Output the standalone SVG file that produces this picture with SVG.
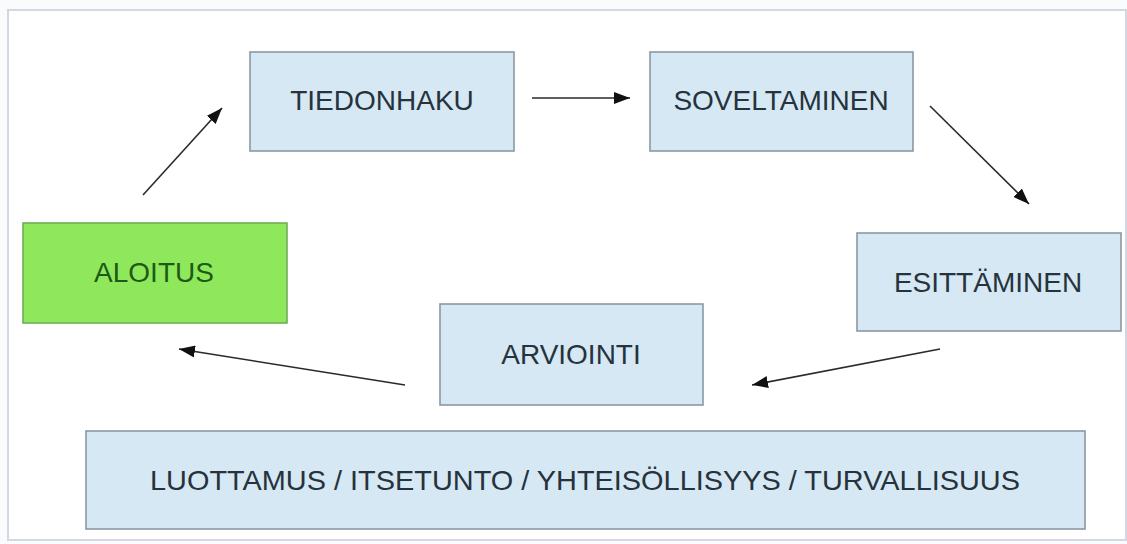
<svg xmlns="http://www.w3.org/2000/svg" width="1127" height="544" viewBox="0 0 1127 544">
<defs>
<style>
.box{fill:#d5e8f4;stroke:#8a98a3;stroke-width:1.6}
.start{fill:#8fe85c;stroke:#6fae55;stroke-width:1.6}
.lbl{font-family:"Liberation Sans",Arial,sans-serif;font-size:28px;fill:#26323c;text-anchor:middle}
.edge{stroke:#2a2a2a;stroke-width:1.6;fill:none;marker-end:url(#ah)}
</style>
<marker id="ah" viewBox="0 0 16 12" refX="16" refY="6" markerWidth="16" markerHeight="12" markerUnits="userSpaceOnUse" orient="auto">
<path d="M0,0 L16,6 L0,12 z" fill="#111"/>
</marker>
</defs>
<rect x="0" y="0" width="1127" height="544" fill="#fafbfc"/>
<rect x="8" y="10" width="1118" height="530" fill="#ffffff" stroke="#d3d7e2" stroke-width="2"/>
<g id="tiedonhaku"><rect class="box" x="250" y="52" width="264" height="99"/><text class="lbl" x="382" y="110">TIEDONHAKU</text></g>
<g id="soveltaminen"><rect class="box" x="650" y="52" width="263" height="99"/><text class="lbl" x="781" y="110">SOVELTAMINEN</text></g>
<g id="esittaminen"><rect class="box" x="857" y="233" width="264" height="98"/><text class="lbl" x="988" y="292">ESITTÄMINEN</text></g>
<g id="aloitus"><rect class="start" x="23" y="223" width="264" height="100"/><text class="lbl" x="154" y="282" style="fill:#1d5a14">ALOITUS</text></g>
<g id="arviointi"><rect class="box" x="440" y="304" width="263" height="101"/><text class="lbl" x="571" y="364">ARVIOINTI</text></g>
<g id="perusta"><rect class="box" x="86" y="431" width="999" height="98"/><text class="lbl" x="585" y="490" textLength="870" lengthAdjust="spacingAndGlyphs">LUOTTAMUS / ITSETUNTO / YHTEISÖLLISYYS / TURVALLISUUS</text></g>
<g id="connectors">
<line class="edge" x1="143" y1="195" x2="222" y2="108"/>
<line class="edge" x1="532" y1="98" x2="630" y2="98"/>
<line class="edge" x1="930" y1="106" x2="1029" y2="204"/>
<line class="edge" x1="940" y1="349" x2="752" y2="385"/>
<line class="edge" x1="405" y1="385" x2="179" y2="349"/>
</g>
</svg>
